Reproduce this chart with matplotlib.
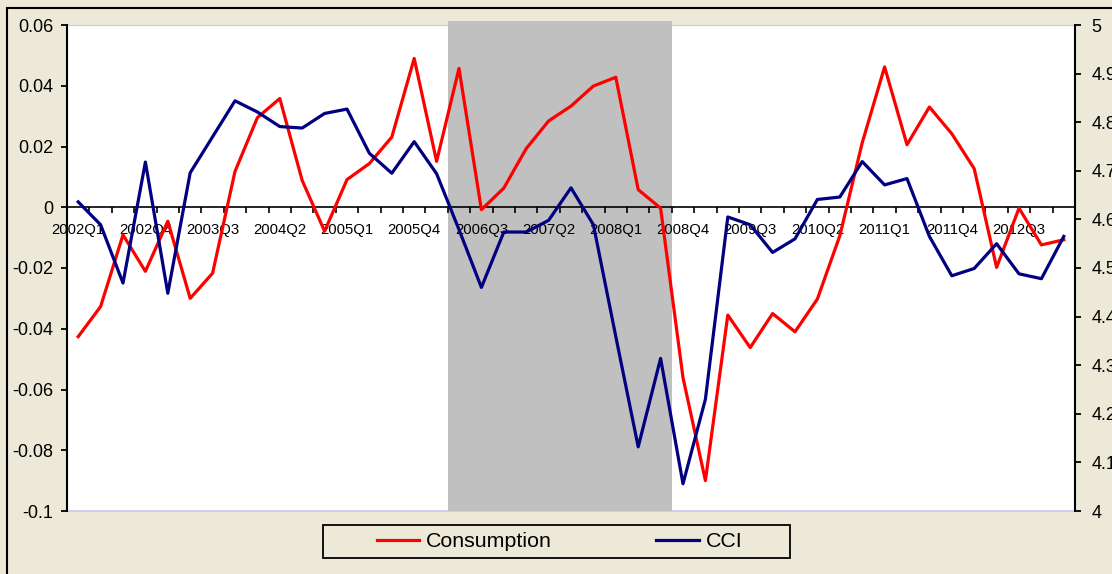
import matplotlib
matplotlib.use("Agg")
import matplotlib.pyplot as plt
from matplotlib.patches import Rectangle
from matplotlib.lines import Line2D

plt.rcParams['font.family'] = ['Liberation Sans', 'DejaVu Sans']

# ---------------- data ----------------
quarters = [f"{y}Q{q}" for y in range(2002, 2014) for q in range(1, 5)][:45]
xtick_labels = ['2002Q1', '2002Q4', '2003Q3', '2004Q2', '2005Q1', '2005Q4',
                '2006Q3', '2007Q2', '2008Q1', '2008Q4', '2009Q3', '2010Q2',
                '2011Q1', '2011Q4', '2012Q3']
consumption = [-0.0426, -0.0327, -0.0091, -0.0211, -0.0046, -0.0300, -0.0217,
               0.0118, 0.0295, 0.0358, 0.0088, -0.0079, 0.0091, 0.0144, 0.0231,
               0.0490, 0.0151, 0.0457, -0.0008, 0.0063, 0.0193, 0.0284, 0.0333,
               0.0399, 0.0428, 0.0058, -0.0003, -0.0561, -0.0900, -0.0355,
               -0.0462, -0.0350, -0.0410, -0.0302, -0.0094, 0.0212, 0.0462,
               0.0206, 0.0330, 0.0242, 0.0127, -0.0198, -0.0003, -0.0124, -0.0107]
cci = [4.636, 4.589, 4.469, 4.718, 4.448, 4.696, 4.770, 4.844, 4.821, 4.791,
       4.788, 4.818, 4.827, 4.736, 4.695, 4.760, 4.694, 4.579, 4.460, 4.574,
       4.574, 4.598, 4.665, 4.589, 4.359, 4.132, 4.314, 4.056, 4.230, 4.605,
       4.589, 4.532, 4.560, 4.641, 4.646, 4.719, 4.671, 4.684, 4.565, 4.484,
       4.499, 4.550, 4.488, 4.478, 4.565]
left_ticks = [0.06, 0.04, 0.02, 0, -0.02, -0.04, -0.06, -0.08, -0.1]
left_labels = ['0.06', '0.04', '0.02', '0', '-0.02', '-0.04', '-0.06', '-0.08', '-0.1']
right_ticks = [4, 4.1, 4.2, 4.3, 4.4, 4.5, 4.6, 4.7, 4.8, 4.9, 5]
right_labels = ['4', '4.1', '4.2', '4.3', '4.4', '4.5', '4.6', '4.7', '4.8', '4.9', '5']
shade_start, shade_end = '2006Q2', '2008Q3'

# ---------------- figure ----------------
W, H = 1112, 574
BG = '#ECE9D8'
fig = plt.figure(figsize=(W / 100, H / 100), dpi=100, facecolor=BG)
ax = fig.add_axes([67 / W, 1 - 511 / H, (1075 - 67) / W, (511 - 25) / H])
ax.set_facecolor('white')

x = list(range(len(quarters)))
n = len(quarters)
ax.set_xlim(-0.5, n - 0.5)
ax.set_ylim(-0.1, 0.06)

# shaded period
i0 = quarters.index(shade_start) - 0.5
i1 = quarters.index(shade_end) + 0.5
ax.axvspan(i0, i1, ymin=0, ymax=1 + 4 / 486, color='#C0C0C0', zorder=1,
           clip_on=False, lw=0)

ax.plot(x, consumption, color='#FF0000', lw=2.3, zorder=3, label='Consumption')

# spines
lav = '#C8C8F5'
ax.spines['top'].set_color(lav)
ax.spines['top'].set_zorder(0.5)
ax.spines['right'].set_visible(False)
ax.spines['left'].set_color('black')
ax.spines['left'].set_linewidth(1.5)
ax.spines['bottom'].set_position(('data', 0))
ax.spines['bottom'].set_color('black')
ax.spines['bottom'].set_linewidth(1.2)
ax.spines['bottom'].set_zorder(2.5)
ax.add_line(Line2D([0, 1], [0, 0], transform=ax.transAxes, color=lav, lw=1.2,
                   zorder=0.5, clip_on=False))

ax.set_yticks(left_ticks)
ax.set_yticklabels(left_labels, fontsize=13)
ax.tick_params(axis='y', direction='out', length=4, width=1.3, pad=6)

ax.set_xticks([i - 0.5 for i in range(n + 1)])
ax.set_xticklabels([])
ax.tick_params(axis='x', which='major', direction='out', length=4, width=1.2)
ax.set_xticks([quarters.index(q) for q in xtick_labels], minor=True)
ax.set_xticklabels(xtick_labels, minor=True, fontsize=10.7)
ax.tick_params(axis='x', which='minor', length=0, pad=11)

ax2 = ax.twinx()
ax2.set_ylim(4, 5)
ax2.plot(x, cci, color='#000080', lw=2.3, label='CCI')
for s in ['top', 'bottom', 'left']:
    ax2.spines[s].set_visible(False)
ax2.spines['right'].set_color('black')
ax2.spines['right'].set_linewidth(1.5)
ax2.set_yticks(right_ticks)
ax2.set_yticklabels(right_labels, fontsize=13)
ax2.tick_params(axis='y', direction='out', length=4, width=1.3, pad=8)

# outer border
fig.patches.append(Rectangle((7 / W, -0.1), 1.2, (H - 8) / H + 0.1,
                             transform=fig.transFigure, fill=False,
                             edgecolor='black', lw=1.5, zorder=0))

# legend box
lx0, lx1, ly0, ly1 = 323, 790, 525, 558
fig.patches.append(Rectangle((lx0 / W, 1 - ly1 / H), (lx1 - lx0) / W, (ly1 - ly0) / H,
                             transform=fig.transFigure, facecolor=BG,
                             edgecolor='black', lw=1.3, zorder=1))
h1, = ax.get_lines()[:1]
h2, = ax2.get_lines()[:1]
leg = fig.legend([h1, h2], ['Consumption', 'CCI'], loc='center',
                 bbox_to_anchor=((lx0 + lx1) / 2 / W + 3 / W, 1 - (ly0 + ly1) / 2 / H),
                 ncol=2, frameon=False, fontsize=15.4, handlelength=2.0,
                 handletextpad=0.3, columnspacing=4.9, borderpad=0.0)

fig.savefig('out.png', dpi=100, facecolor=BG)
